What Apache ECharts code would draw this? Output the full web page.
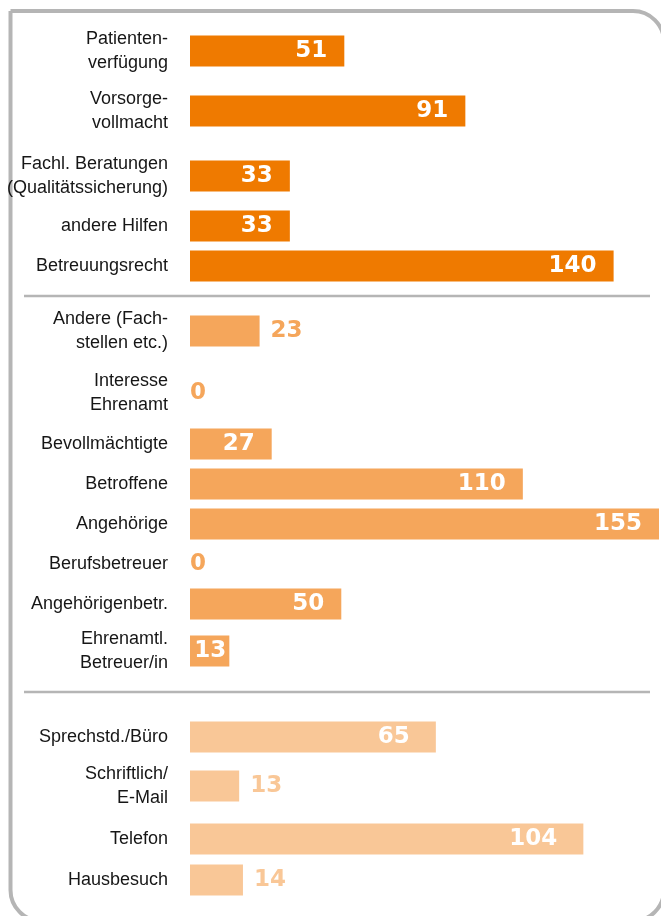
<!DOCTYPE html>
<html>
<head>
<meta charset="utf-8">
<script src="https://cdn.jsdelivr.net/npm/echarts@6/dist/echarts.min.js"></script>
<style>
  * { margin: 0; padding: 0; }
  html, body { width: 100%; height: 100%; background: #fff; }
  #chart { width: 661px; height: 916px; }
</style>
</head>
<body>
<div id="chart"></div>
<script>
// Themen
var themenNames = ['Patienten-\nverfügung', 'Vorsorge-\nvollmacht', 'Fachl. Beratungen\n(Qualitätssicherung)', 'andere Hilfen', 'Betreuungsrecht']
var themenValues = [51, 91, 33, 33, 140]
// Ratsuchende
var personenNames = ['Andere (Fach-\nstellen etc.)', 'Interesse\nEhrenamt', 'Bevollmächtigte', 'Betroffene', 'Angehörige', 'Berufsbetreuer', 'Angehörigenbetr.', 'Ehrenamtl.\nBetreuer/in']
var personenValues = [23, 0, 27, 110, 155, 0, 50, 13]
// Art der Beratung
var artNames = ['Sprechstd./Büro', 'Schriftlich/\nE-Mail', 'Telefon', 'Hausbesuch']
var artValues = [65, 13, 104, 14]

// layout (row centres in px, one per bar) and styles
var rowCenters = [51, 111, 176, 226, 266, 331, 393, 444, 484, 524, 564, 604, 651, 737, 786, 839, 880]
var outsideRows = [5, 6, 10, 14, 16]
var groupColors = ['#ef7a00', '#f5a65b', '#f9c797']
var groupMax = [155, 155, 124] // the third block uses its own scale
var groupInsideDist = [17, 17, 26]

var names = themenNames.concat(personenNames, artNames)
var values = themenValues.concat(personenValues, artValues)
var groupOf = []
themenNames.forEach(function() { groupOf.push(0) })
personenNames.forEach(function() { groupOf.push(1) })
artNames.forEach(function() { groupOf.push(2) })

var chart = echarts.init(document.getElementById('chart'))

var grids = []
var xAxes = []
var yAxes = []
var series = []

for (var i = 0; i < names.length; i++) {
  var g = groupOf[i]
  var color = groupColors[g]
  var outside = outsideRows.indexOf(i) >= 0
  var labelOpt = {
    show: true,
    fontFamily: 'DejaVu Sans',
    fontWeight: 'bold',
    fontSize: 23,
    color: outside ? color : '#fff',
    position: outside ? 'right' : 'insideRight',
    distance: outside ? (values[i] === 0 ? 0 : 11) : groupInsideDist[g]
  }
  if (!outside && values[i] < 15) labelOpt.distance = 3

  grids.push({
    left: 190,
    width: 469,
    top: rowCenters[i] - 15.5,
    height: 31,
    outerBoundsMode: 'none'
  })
  xAxes.push({
    gridIndex: i,
    type: 'value',
    min: 0,
    max: groupMax[g],
    show: false
  })
  yAxes.push({
    gridIndex: i,
    type: 'category',
    data: [names[i]],
    axisLine: { show: false },
    axisTick: { show: false },
    splitLine: { show: false },
    axisLabel: {
      margin: 22,
      fontFamily: 'Liberation Sans',
      fontSize: 18,
      lineHeight: 24,
      color: '#161616'
    }
  })
  series.push({
    type: 'bar',
    xAxisIndex: i,
    yAxisIndex: i,
    barWidth: 31,
    silent: true,
    animation: false,
    itemStyle: { color: color },
    label: labelOpt,
    data: [values[i]]
  })
}

var options = {
  animation: false,
  grid: grids,
  xAxis: xAxes,
  yAxis: yAxes,
  series: series,
  graphic: [
    {
      type: 'rect',
      silent: true,
      shape: { x: 10.5, y: 11, width: 653.5, height: 910, r: [0, 31, 31, 31] },
      style: { fill: null, stroke: '#b5b5b5', lineWidth: 4 }
    },
    {
      type: 'line',
      silent: true,
      shape: { x1: 24, y1: 296, x2: 650, y2: 296 },
      style: { stroke: '#b5b5b5', lineWidth: 2.5 }
    },
    {
      type: 'line',
      silent: true,
      shape: { x1: 24, y1: 692, x2: 650, y2: 692 },
      style: { stroke: '#b5b5b5', lineWidth: 2.5 }
    }
  ]
}
chart.setOption(options)
window.addEventListener('resize', function() {
  chart.resize()
}, false)
</script>
</body>
</html>
